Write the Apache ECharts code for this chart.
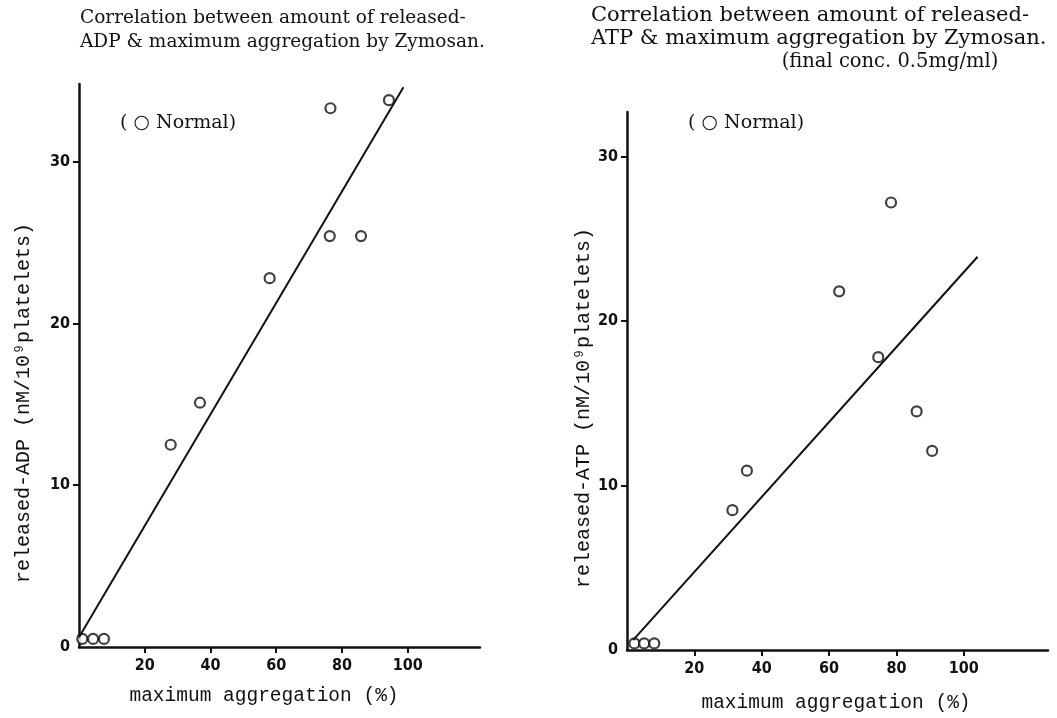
<!doctype html>
<html>
<head>
  <meta charset="utf-8">
  <script src="https://cdn.jsdelivr.net/npm/echarts@6/dist/echarts.min.js"></script>
  <style>
    html, body { margin: 0; padding: 0; background: #fff; }
    #chart { width: 1057px; height: 718px; }
  </style>
</head>
<body>
  <div id="chart"></div>
  <script>
    // released ADP vs maximum aggregation (left panel)
    var adpAggregation = [1, 4.3, 7.6, 27.9, 36.8, 58, 76.3, 76.5, 85.8, 94.3];
    var adpReleased = [0.5, 0.5, 0.5, 12.5, 15.1, 22.8, 25.4, 33.3, 25.4, 33.8];
    var adpFitX = [0, 98.7];
    var adpFitY = [0.6, 34.6];

    // released ATP vs maximum aggregation (right panel)
    var atpAggregation = [2.2, 5.1, 8.1, 31.3, 35.6, 63, 74.6, 78.4, 86, 90.6];
    var atpReleased = [0.4, 0.4, 0.4, 8.5, 10.9, 21.8, 17.8, 27.2, 14.5, 12.1];
    var atpFitX = [1.8, 104.1];
    var atpFitY = [0.6, 23.9];

    var xTicks = [20, 40, 60, 80, 100];
    var yTicks = [0, 10, 20, 30];

    function pairs(xs, ys) {
      var out = [];
      for (var i = 0; i < xs.length; i++) out.push([xs[i], ys[i]]);
      return out;
    }

    var tickFont = { fontFamily: 'DejaVu Sans Condensed', fontWeight: 'bold', fontSize: 16, color: '#111' };

    function xAxisFor(grid, max) {
      return {
        type: 'value', gridIndex: grid, min: 0, max: max,
        axisLine: { onZero: false, lineStyle: { color: '#111', width: 2.5 } },
        axisTick: { customValues: xTicks, length: 6, lineStyle: { color: '#111', width: 2 } },
        axisLabel: Object.assign({ customValues: xTicks, margin: 11 }, tickFont),
        splitLine: { show: false }
      };
    }
    function yAxisFor(grid, max) {
      return {
        type: 'value', gridIndex: grid, min: 0, max: max,
        axisLine: { onZero: false, lineStyle: { color: '#111', width: 2.5 } },
        axisTick: { customValues: [10, 20, 30], length: 6, lineStyle: { color: '#111', width: 2 } },
        axisLabel: Object.assign({ customValues: yTicks, margin: 9 }, tickFont),
        splitLine: { show: false }
      };
    }

    var marker = { color: '#fff', borderColor: '#111', borderWidth: 2.2 };
    var fitLine = { color: '#111', width: 2 };
    var serif = 'DejaVu Serif';
    var mono = 'Liberation Mono';

    var chart = echarts.init(document.getElementById('chart'));
    chart.setOption({
      animation: false,
      backgroundColor: '#fff',
      grid: [
        { left: 79, top: 84, width: 401, height: 563 },
        { left: 627, top: 112, width: 421, height: 538 }
      ],
      xAxis: [xAxisFor(0, 122), xAxisFor(1, 125)],
      yAxis: [yAxisFor(0, 34.8), yAxisFor(1, 32.7)],
      series: [
        { type: 'scatter', xAxisIndex: 0, yAxisIndex: 0, symbol: 'circle', symbolSize: 10,
          itemStyle: marker, data: pairs(adpAggregation, adpReleased) },
        { type: 'line', xAxisIndex: 0, yAxisIndex: 0, symbol: 'none', lineStyle: fitLine,
          data: pairs(adpFitX, adpFitY) },
        { type: 'scatter', xAxisIndex: 1, yAxisIndex: 1, symbol: 'circle', symbolSize: 10,
          itemStyle: marker, data: pairs(atpAggregation, atpReleased) },
        { type: 'line', xAxisIndex: 1, yAxisIndex: 1, symbol: 'none', lineStyle: fitLine,
          data: pairs(atpFitX, atpFitY) }
      ],
      graphic: [
        // titles
        { type: 'text', left: 80, top: 6, style: { text: 'Correlation between amount of released-\nADP & maximum aggregation by Zymosan.',
          font: '18.5px ' + serif, lineHeight: 24, fill: '#111' } },
        { type: 'text', left: 591, top: 4, style: { text: 'Correlation between amount of released-\nATP & maximum aggregation by Zymosan.',
          font: '21px ' + serif, lineHeight: 23, fill: '#111' } },
        { type: 'text', x: 890, y: 62, style: { text: '(final conc. 0.5mg/ml)', font: '19.5px ' + serif,
          fill: '#111', align: 'center', verticalAlign: 'middle' } },
        // legend labels
        { type: 'text', left: 120, top: 114, style: { text: '( \u25CB Normal)', font: '19px ' + serif, fill: '#111' } },
        { type: 'text', left: 688, top: 114, style: { text: '( \u25CB Normal)', font: '19px ' + serif, fill: '#111' } },
        // axis names
        { type: 'text', x: 264, y: 696, style: { text: 'maximum aggregation (%)', font: '19.5px ' + mono,
          fill: '#111', align: 'center', verticalAlign: 'middle' } },
        { type: 'text', x: 836, y: 703, style: { text: 'maximum aggregation (%)', font: '19.5px ' + mono,
          fill: '#111', align: 'center', verticalAlign: 'middle' } },
        { type: 'text', x: 24, y: 403, rotation: Math.PI / 2, style: { text: 'released-ADP (nM/10\u2079platelets)',
          font: '20px ' + mono, fill: '#111', align: 'center', verticalAlign: 'middle' } },
        { type: 'text', x: 584, y: 408, rotation: Math.PI / 2, style: { text: 'released-ATP (nM/10\u2079platelets)',
          font: '20px ' + mono, fill: '#111', align: 'center', verticalAlign: 'middle' } }
      ]
    });
  </script>
</body>
</html>
